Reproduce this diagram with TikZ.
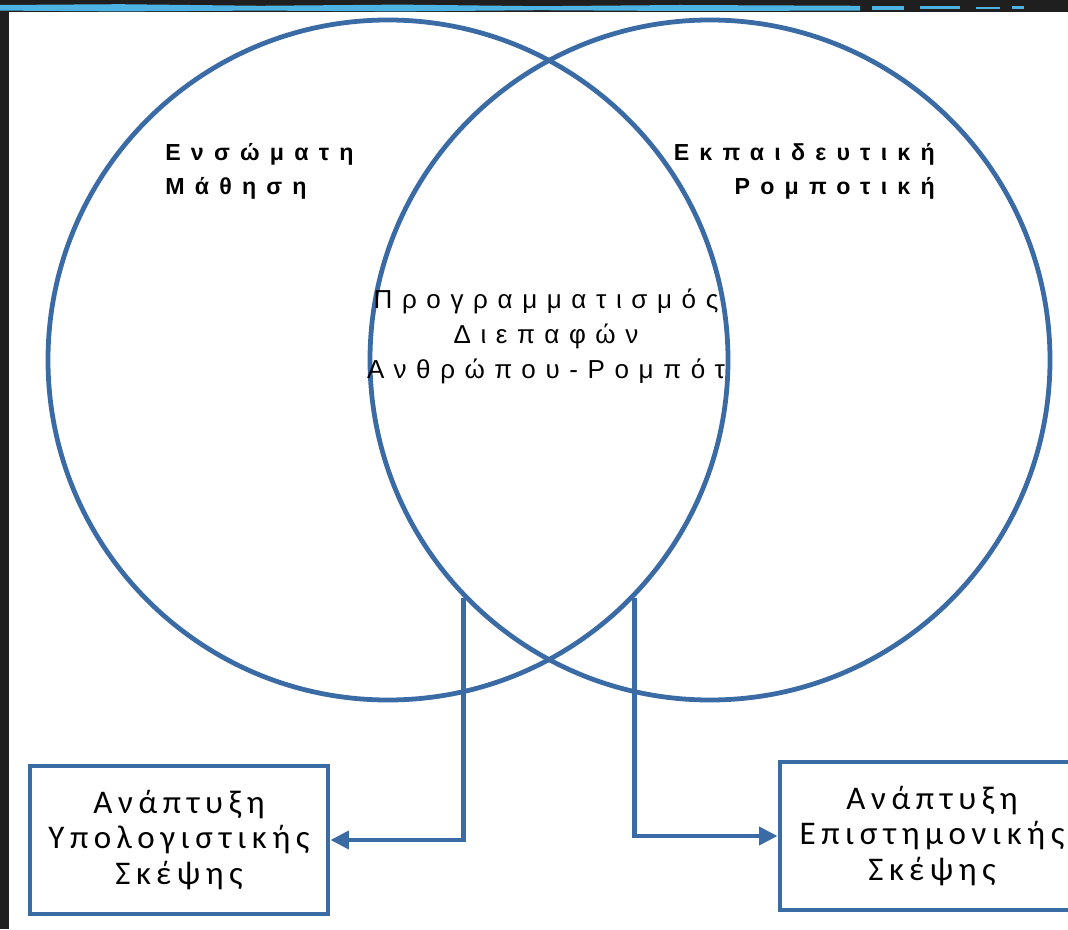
\documentclass[tikz,border=0pt]{standalone}
\usepackage{fontspec}
\setmainfont{Liberation Sans}
\newfontfamily\labelfont[LetterSpace=44]{Liberation Sans}
\newfontfamily\midfont[LetterSpace=37]{Liberation Sans}
\newfontfamily\boxfont[LetterSpace=17]{Carlito}
\usetikzlibrary{arrows.meta,positioning}
\definecolor{vennblue}{HTML}{3B6BA5}
\definecolor{framedark}{HTML}{1F1F1F}
\definecolor{framecyan}{HTML}{4DB3E2}

\begin{document}
\begin{tikzpicture}[
  ring/.style={draw=vennblue,line width=3.4pt,circle,minimum size=17cm,inner sep=0pt},
  skillbox/.style={draw=vennblue,line width=3.4pt,minimum width=7.45cm,minimum height=3.7cm,
    inner sep=0pt,align=center,font=\boxfont\fontsize{23.5}{25.5}\selectfont},
  heading/.style={inner sep=0pt,font=\labelfont\bfseries\fontsize{16.5}{24}\selectfont},
  link/.style={draw=vennblue,line width=3.4pt,-{Triangle[length=4.6mm,width=4.4mm]}},
  ]

  \useasboundingbox (0,0) rectangle (26.7,23.225);

  % ---- Frame / background ------------------------------------
  \fill[framedark] (0,0) rectangle (26.7,23.225);
  \fill[white] (0.225,0) rectangle (26.7,22.925);
  % torn cyan stripe along the top
  \fill[framecyan] (0,23.10) -- (3.0,23.12) -- (6.5,23.08) -- (10.0,23.11) -- (13.5,23.07)
    -- (17.0,23.10) -- (21.5,23.08) -- (21.5,22.96) -- (17.0,22.95) -- (13.5,22.97)
    -- (10.0,22.94) -- (6.5,22.96) -- (3.0,22.94) -- (0,22.96) -- cycle;
  \fill[framecyan] (21.8,23.07) rectangle (22.6,22.98);
  \fill[framecyan] (23.0,23.08) rectangle (24.0,22.99);
  \fill[framecyan] (24.4,23.06) rectangle (25.0,23.00);
  \fill[framecyan] (25.3,23.07) rectangle (25.6,23.01);

  % ============================================================
  %  Venn circles
  % ============================================================
  \node[ring] (embcirc) at (9.70,14.225) {};
  \node[ring] (robcirc) at (17.75,14.225) {};

  % Circle titles
  \node[heading,anchor=west,align=left] (emblabel) at (4.125,18.95)
    {Ενσώματη\\Μάθηση};
  \node[heading,anchor=east,align=right] (roblabel) at (23.375,18.95)
    {Εκπαιδευτική\\Ρομποτική};

  % Overlap
  \node[align=center,font=\midfont\fontsize{18.5}{25}\selectfont] (hri) at (13.65,14.82)
    {Προγραμματισμός\\Διεπαφών\\Ανθρώπου-Ρομπότ};

  % ============================================================
  %  Outcomes
  % ============================================================
  \node[skillbox] (compthink) at (4.475,2.225)
    {Ανάπτυξη\\Υπολογιστικής\\Σκέψης};
  \node[skillbox,minimum width=7.6cm] (scithink) at (23.3,2.325)
    {Ανάπτυξη\\Επιστημονικής\\Σκέψης};

  \draw[link] (robcirc.224) |- (compthink.east);
  \draw[link] (embcirc.-44) |- (scithink.west);

\end{tikzpicture}
\end{document}
